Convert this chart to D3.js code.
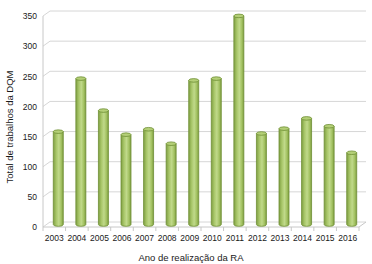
<!DOCTYPE html>
<html><head><meta charset="utf-8">
<script src="https://cdn.jsdelivr.net/npm/d3@7"></script>
<style>
html,body{margin:0;padding:0;background:#fff;}
svg{display:block;}
text{font-family:"Liberation Sans",Arial,sans-serif;fill:#1a1a1a;}
</style></head>
<body>
<svg id="c" width="372" height="264"></svg>
<script>
const years = ["2003","2004","2005","2006","2007","2008","2009","2010","2011","2012","2013","2014","2015","2016"];
const values = [154,242,189,149,158,134,239,242,346,151,159,176,163,119];
const yTicks = [0,50,100,150,200,250,300,350];
const xTitle = "Ano de realização da RA";
const yTitle = "Total de trabalhos da DQM";

const svg = d3.select("#c");
const left = 43, right = 359, dx = 7, dy = -5;
const x = d3.scaleBand().domain(years).range([left, right]).paddingInner(0).paddingOuter(0);
const y = d3.scaleLinear().domain([0, 350]).range([227, 16]);

const defs = svg.append("defs");
const g = defs.append("linearGradient").attr("id","cyl").attr("x1","0").attr("x2","1").attr("y1","0").attr("y2","0");
[["0%","#7f9f42"],["30%","#a9c76a"],["55%","#c0d98a"],["80%","#a3c262"],["100%","#7d9c40"]].forEach(s=>g.append("stop").attr("offset",s[0]).attr("stop-color",s[1]));

// gridlines: front-left slant + back wall
const grid = svg.append("g");
yTicks.forEach(t=>{
  grid.append("path")
    .attr("d", `M${left},${y(t)}L${left+dx},${y(t)+dy}L${right+dx},${y(t)+dy}`)
    .attr("fill","none").attr("stroke","#d6d6d6").attr("stroke-width",1);
});
// floor edges
svg.append("path").attr("d",`M${left},${y(0)}L${right},${y(0)}L${right+dx},${y(0)+dy}`)
  .attr("fill","none").attr("stroke","#c8c8c8").attr("stroke-width",1);
// y axis line
svg.append("line").attr("x1",left).attr("x2",left).attr("y1",y(350)).attr("y2",y(0))
  .attr("stroke","#c8c8c8").attr("stroke-width",1);

// x axis ticks at band boundaries
const bounds = years.map(d=>x(d)).concat([right]);
svg.append("g").selectAll("line").data(bounds).join("line")
  .attr("x1",d=>d).attr("x2",d=>d).attr("y1",y(0)).attr("y2",y(0)+4)
  .attr("stroke","#c8c8c8");

// y axis labels
const yAxis = d3.axisLeft(y).tickValues(yTicks).tickSize(0).tickPadding(0);
const ya = svg.append("g").attr("transform",`translate(${left-6},0)`).call(yAxis);
ya.select(".domain").remove();
ya.selectAll("text").attr("font-size","8.5px").attr("font-family","Liberation Sans, Arial, sans-serif").attr("fill","#1a1a1a");

// x axis labels
const xAxis = d3.axisBottom(x).tickSize(0).tickPadding(0);
const xa = svg.append("g").attr("transform",`translate(0,${y(0)+8})`).call(xAxis);
xa.select(".domain").remove();
xa.selectAll("text").attr("font-size","8.5px").attr("font-family","Liberation Sans, Arial, sans-serif").attr("fill","#1a1a1a");

// bars (cylinders) at mid depth
const bw = 10, ry = 1.8;
const mdx = dx/2 + 0.5, mdy = dy/2;
const bars = svg.append("g").selectAll("g").data(years.map((d,i)=>({k:d,v:values[i]}))).join("g");
bars.each(function(d){
  const gg = d3.select(this);
  const cx = x(d.k) + x.bandwidth()/2 + mdx;
  const yb = y(0) + mdy, yt = y(d.v) + mdy;
  gg.append("path")
    .attr("d", `M${cx-bw/2},${yt}L${cx-bw/2},${yb}A${bw/2},${ry} 0 0 0 ${cx+bw/2},${yb}L${cx+bw/2},${yt}Z`)
    .attr("fill","url(#cyl)").attr("stroke","#6f8f35").attr("stroke-width",0.8);
  gg.append("ellipse").attr("cx",cx).attr("cy",yt).attr("rx",bw/2).attr("ry",ry)
    .attr("fill","#b4cf77").attr("stroke","#6f8f35").attr("stroke-width",0.8);
});

// titles
svg.append("text").attr("x",191).attr("y",261).attr("text-anchor","middle")
  .attr("font-size","9.5px").text(xTitle);
svg.append("text").attr("transform","translate(13,127) rotate(-90)").attr("text-anchor","middle")
  .attr("font-size","9.5px").text(yTitle);
</script>
</body></html>
